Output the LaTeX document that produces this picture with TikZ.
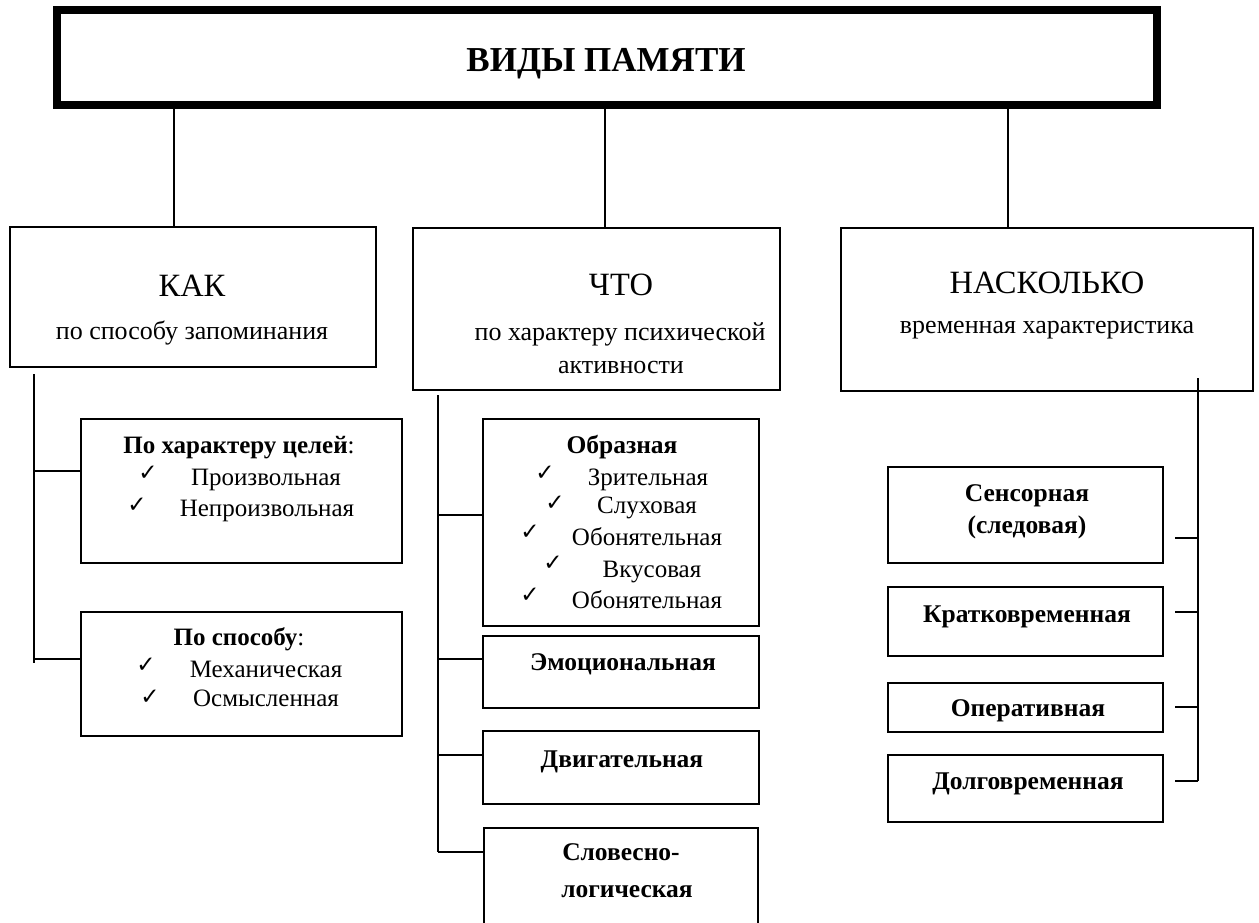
\documentclass[tikz,border=0pt]{standalone}
\usepackage{fontspec}
\setmainfont{Liberation Serif}
\newfontfamily\symf{DejaVu Sans}
\usetikzlibrary{fit}
\begin{document}
\begin{tikzpicture}[x=1pt,y=-1pt,
  box/.style={draw, line width=1.8pt, inner sep=0pt},
  conn/.style={line width=1.8pt},
  ttl/.style={font=\fontsize{35}{40}\selectfont\bfseries, inner sep=0pt, anchor=base},
  hd/.style={font=\fontsize{32.5}{38}\selectfont, inner sep=0pt, anchor=base},
  sb/.style={font=\fontsize{26}{30}\selectfont, inner sep=0pt, anchor=base},
  it/.style={font=\fontsize{25}{29}\selectfont, inner sep=0pt, anchor=base},
  bit/.style={font=\fontsize{25.5}{30}\selectfont\bfseries, inner sep=0pt, anchor=base},
  chk/.style={font=\symf\fontsize{23}{25}\selectfont, inner sep=0pt, anchor=center},
]
\useasboundingbox (0,0) rectangle (1259,923);

% boxes
\node[box, line width=8pt, fit={(57,10.5) (1156.5,105.5)}] (top) {};
\node[box, fit={(10,227) (376,367)}] (kak) {};
\node[box, fit={(413,228) (780,390)}] (chto) {};
\node[box, fit={(841,228) (1253,391)}] (nask) {};
\node[box, fit={(81,419) (402,563)}] (b1) {};
\node[box, fit={(81,612) (402,736)}] (b2) {};
\node[box, fit={(483,419) (759,626)}] (m1) {};
\node[box, fit={(483,636) (759,708)}] (m2) {};
\node[box, fit={(483,731) (759,804)}] (m3) {};
\node[box, fit={(484,828) (758,940)}] (m4) {};
\node[box, fit={(888,467) (1163,563)}] (r1) {};
\node[box, fit={(888,587) (1163,656)}] (r2) {};
\node[box, fit={(888,683) (1163,732)}] (r3) {};
\node[box, fit={(888,755) (1163,822)}] (r4) {};

% top connectors
\coordinate (x1) at (174,0);
\coordinate (x2) at (605,0);
\coordinate (x3) at (1008,0);
\draw[conn] (top.south -| x1) -- (kak.north -| x1);
\draw[conn] (top.south -| x2) -- (chto.north -| x2);
\draw[conn] (top.south -| x3) -- (nask.north -| x3);

% left spine
\coordinate (ls) at (34,374);
\coordinate (lb1) at (34,471);
\coordinate (lb2) at (34,659);
\coordinate (le) at (34,663);
\draw[conn] (ls) -- (le);
\draw[conn] (lb1) -- (lb1 -| b1.west);
\draw[conn] (lb2) -- (lb2 -| b2.west);

% middle spine
\coordinate (ms) at (438,395);
\coordinate (mb1) at (438,515);
\coordinate (mb2) at (438,659);
\coordinate (mb3) at (438,755);
\coordinate (mb4) at (438,852);
\draw[conn] (ms) -- (mb4);
\draw[conn] (mb1) -- (mb1 -| m1.west);
\draw[conn] (mb2) -- (mb2 -| m2.west);
\draw[conn] (mb3) -- (mb3 -| m3.west);
\draw[conn] (mb4) -- (mb4 -| m4.west);

% right spine
\coordinate (rs) at (1198,378);
\coordinate (rb1) at (1198,538);
\coordinate (rb2) at (1198,612);
\coordinate (rb3) at (1198,707);
\coordinate (rb4) at (1198,781);
\coordinate (re1) at (1175,538);
\coordinate (re2) at (1175,612);
\coordinate (re3) at (1175,707);
\coordinate (re4) at (1175,781);
\draw[conn] (rs) -- (rb4);
\draw[conn] (rb1) -- (re1);
\draw[conn] (rb2) -- (re2);
\draw[conn] (rb3) -- (re3);
\draw[conn] (rb4) -- (re4);

% texts
\node[ttl] (t0) at (606,72) {ВИДЫ ПАМЯТИ};

\node[hd] (t1) at (192,296) {КАК};
\node[sb] (t1s) at (192,339) {по способу запоминания};
\node[hd] (t2) at (621,295) {ЧТО};
\node[sb] (t2s) at (620,340) {по характеру психической};
\node[sb] (t2t) at (621,373) {активности};
\node[hd] (t3) at (1047,293) {НАСКОЛЬКО};
\node[sb] (t3s) at (1047,333) {временная характеристика};

% left boxes
\node[it] (h1) at (239,453) {\textbf{По характеру целей}:};
\node[chk] (c11) at (148,473) {✓};
\node[it] (i11) at (266,485) {Произвольная};
\node[chk] (c12) at (137,505) {✓};
\node[it] (i12) at (267,516) {Непроизвольная};

\node[it] (h2) at (239,645) {\textbf{По способу}:};
\node[chk] (c21) at (146,665) {✓};
\node[it] (i21) at (266,677) {Механическая};
\node[chk] (c22) at (150,697) {✓};
\node[it] (i22) at (266,706) {Осмысленная};

% middle boxes
\node[bit] (h3) at (622,453) {Образная};
\node[chk] (c31) at (545,473) {✓};
\node[it] (i31) at (648,485) {Зрительная};
\node[chk] (c32) at (555,503) {✓};
\node[it] (i32) at (647,513) {Слуховая};
\node[chk] (c33) at (530,532) {✓};
\node[it] (i33) at (647,545) {Обонятельная};
\node[chk] (c34) at (553,563) {✓};
\node[it] (i34) at (652,577) {Вкусовая};
\node[chk] (c35) at (530,595) {✓};
\node[it] (i35) at (647,608) {Обонятельная};

\node[bit] (e1) at (623,670) {Эмоциональная};
\node[bit] (e2) at (622,767) {Двигательная};
\node[bit] (e3) at (621,860) {Словесно-};
\node[bit] (e4) at (627,897) {логическая};

% right boxes
\node[bit] (s1) at (1027,501) {Сенсорная};
\node[bit] (s2) at (1027,533) {(следовая)};
\node[bit] (s3) at (1027,622) {Кратковременная};
\node[bit] (s4) at (1028,716) {Оперативная};
\node[bit] (s5) at (1028,789) {Долговременная};
\end{tikzpicture}
\end{document}
